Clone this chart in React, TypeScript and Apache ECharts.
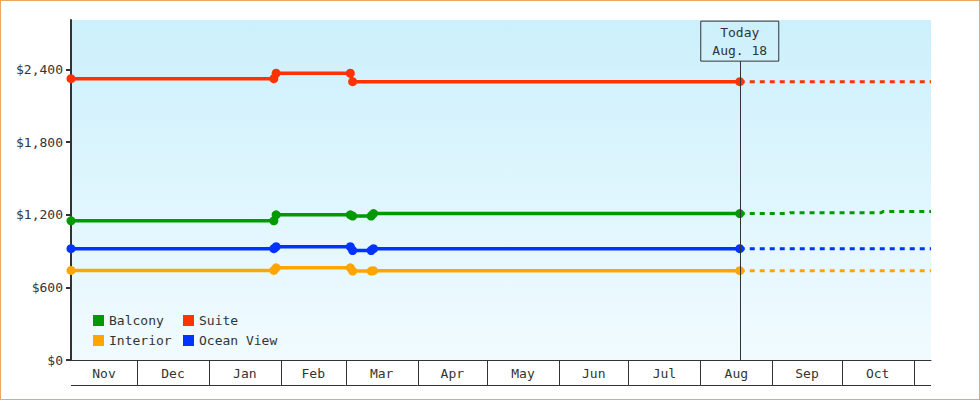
import React, { useEffect, useRef } from 'react';
import * as echarts from 'echarts';

const FONT = 'DejaVu Sans Mono';
const TEXT = '#333';

// axis range and the "today" marker
const rangeStart = '2018-11-02 12:00';
const rangeEnd = '2019-11-08 12:00';
const today = '2019-08-18';
const todayLabel = 'Today\nAug. 18';

// month band under the plot
const monthStarts = [
  '2018-11-01', '2018-12-01', '2019-01-01', '2019-02-01', '2019-03-01', '2019-04-01', '2019-05-01',
  '2019-06-01', '2019-07-01', '2019-08-01', '2019-09-01', '2019-10-01', '2019-11-01', '2019-12-01',
];
const monthLabels = ['Nov', 'Dec', 'Jan', 'Feb', 'Mar', 'Apr', 'May', 'Jun', 'Jul', 'Aug', 'Sep', 'Oct', ''];

const yTicks = [0, 600, 1200, 1800, 2400];

// price history (solid)
const suiteDates = [rangeStart, '2019-01-29', '2019-01-30', '2019-03-03', '2019-03-04', today];
const suitePrices = [2325, 2325, 2370, 2370, 2300, 2300];

const cabinDates = [rangeStart, '2019-01-29', '2019-01-30', '2019-03-03', '2019-03-04', '2019-03-12', '2019-03-13', today];
const balconyPrices = [1150, 1150, 1200, 1200, 1190, 1190, 1210, 1210];
const oceanViewPrices = [920, 920, 936, 936, 905, 905, 920, 920];
const interiorPrices = [740, 740, 762, 762, 735, 735, 738, 738];

// forecast (dashed)
const flatForecastDates = [today, rangeEnd];
const suiteForecast = [2300, 2300];
const oceanViewForecast = [920, 920];
const interiorForecast = [738, 738];
const balconyForecastDates = [today, '2019-09-08', '2019-09-09', '2019-10-18', '2019-10-19', rangeEnd];
const balconyForecast = [1210, 1210, 1218, 1218, 1228, 1228];

const colors: Record<string, string> = {
  Balcony: '#009900',
  Suite: '#ff3300',
  Interior: '#ffa500',
  'Ocean View': '#0033ff',
};

const zip = (dates: string[], values: number[]) => dates.map((d, i) => [d, values[i]]);

const solid = (name: string, dates: string[], values: number[], extra: any = {}) => ({
  name,
  type: 'line',
  data: zip(dates, values),
  symbol: 'circle',
  symbolSize: 9,
  showAllSymbol: true,
  color: colors[name],
  lineStyle: { width: 3.5, color: colors[name] },
  itemStyle: { color: colors[name] },
  z: 3,
  ...extra,
});

const dashed = (name: string, dates: string[], values: number[]) => ({
  name,
  type: 'line',
  data: zip(dates, values),
  showSymbol: false,
  color: colors[name],
  lineStyle: { width: 3, type: [5, 5], color: colors[name] },
  z: 2,
});

const legendStyle = {
  orient: 'vertical',
  top: 313,
  padding: 0,
  icon: 'rect',
  itemWidth: 11,
  itemHeight: 11,
  itemGap: 7,
  textStyle: { fontFamily: FONT, fontSize: 13, color: TEXT, lineHeight: 13 },
};

const App: React.FC = () => {
  const chartRef = useRef<HTMLDivElement>(null);

  useEffect(() => {
    if (!chartRef.current) return;
    const chart = echarts.init(chartRef.current, null, { renderer: 'svg' });

    const monthCells = monthLabels.map((_, i) => [+new Date(monthStarts[i]), 0, +new Date(monthStarts[i + 1])]);

    const option: any = {
      animation: false,
      textStyle: { fontFamily: FONT },
      grid: {
        left: 70,
        top: 19,
        right: 48,
        bottom: 39,
        show: true,
        borderWidth: 0,
        backgroundColor: new echarts.graphic.LinearGradient(0, 0, 0, 1, [
          { offset: 0, color: '#ccf0fc' },
          { offset: 1, color: '#f1fbff' },
        ]),
      },
      legend: [
        { ...legendStyle, data: ['Balcony', 'Interior'], left: 92 },
        { ...legendStyle, data: ['Suite', 'Ocean View'], left: 182 },
      ],
      xAxis: {
        type: 'time',
        min: rangeStart,
        max: rangeEnd,
        axisLine: { lineStyle: { color: '#333', width: 1 } },
        axisTick: { show: false },
        axisLabel: { show: false },
        splitLine: { show: false },
      },
      yAxis: {
        type: 'value',
        min: 0,
        max: 2810,
        axisLine: { show: true, lineStyle: { color: '#333', width: 2 } },
        axisTick: { show: true, length: 5, customValues: yTicks, lineStyle: { color: '#333', width: 2 } },
        axisLabel: {
          customValues: yTicks,
          margin: 8,
          fontFamily: FONT,
          fontSize: 13,
          color: TEXT,
          formatter: (v: number) => '$' + v.toLocaleString('en-US'),
        },
        splitLine: { show: false },
      },
      series: [
        solid('Suite', suiteDates, suitePrices, {
          markLine: {
            silent: true,
            symbol: ['none', 'none'],
            lineStyle: { color: '#333', width: 1, type: 'solid' },
            label: {
              show: true,
              position: 'end',
              distance: 0,
              formatter: todayLabel,
              fontFamily: FONT,
              fontSize: 13,
              color: TEXT,
              lineHeight: 18,
              width: 78,
              align: 'center',
              padding: [2, 0],
              borderColor: '#333',
              borderWidth: 1,
            },
            data: [[{ coord: [today, 0] }, { coord: [today, 2470] }]],
          },
        }),
        solid('Balcony', cabinDates, balconyPrices),
        solid('Ocean View', cabinDates, oceanViewPrices),
        solid('Interior', cabinDates, interiorPrices),
        dashed('Suite', flatForecastDates, suiteForecast),
        dashed('Balcony', balconyForecastDates, balconyForecast),
        dashed('Ocean View', flatForecastDates, oceanViewForecast),
        dashed('Interior', flatForecastDates, interiorForecast),
        {
          type: 'custom',
          silent: true,
          clip: false,
          encode: { x: [0, 2], y: 1 },
          data: monthCells,
          renderItem: (params: any, api: any) => {
            const cs = params.coordSys;
            const base = cs.y + cs.height;
            const x0 = api.coord([api.value(0), 0])[0];
            const x1 = api.coord([api.value(2), 0])[0];
            const left = Math.max(x0, cs.x);
            const right = Math.min(x1, cs.x + cs.width);
            const children: any[] = [
              {
                type: 'line',
                shape: { x1: left, y1: base + 25.5, x2: right, y2: base + 25.5 },
                style: { stroke: '#333', lineWidth: 1 },
              },
            ];
            if (x0 > cs.x + 1) {
              const sx = Math.round(x0) + 0.5;
              children.push({
                type: 'line',
                shape: { x1: sx, y1: base, x2: sx, y2: base + 25.5 },
                style: { stroke: '#333', lineWidth: 1 },
              });
            }
            const label = monthLabels[params.dataIndex];
            if (label) {
              children.push({
                type: 'text',
                x: (left + right) / 2,
                y: base + 13,
                style: {
                  text: label,
                  fill: TEXT,
                  font: `13px "${FONT}"`,
                  align: 'center',
                  verticalAlign: 'middle',
                },
              });
            }
            return { type: 'group', children };
          },
        },
      ],
    };

    chart.setOption(option);
    return () => {
      chart.dispose();
    };
  }, []);

  return (
    <div
      style={{
        position: 'absolute',
        left: 0,
        top: 0,
        width: 980,
        height: 400,
        boxSizing: 'border-box',
        border: '1px solid #e8a862',
        background: '#fff',
      }}
    >
      <div ref={chartRef} style={{ width: 978, height: 398 }} />
    </div>
  );
};

export default App;
